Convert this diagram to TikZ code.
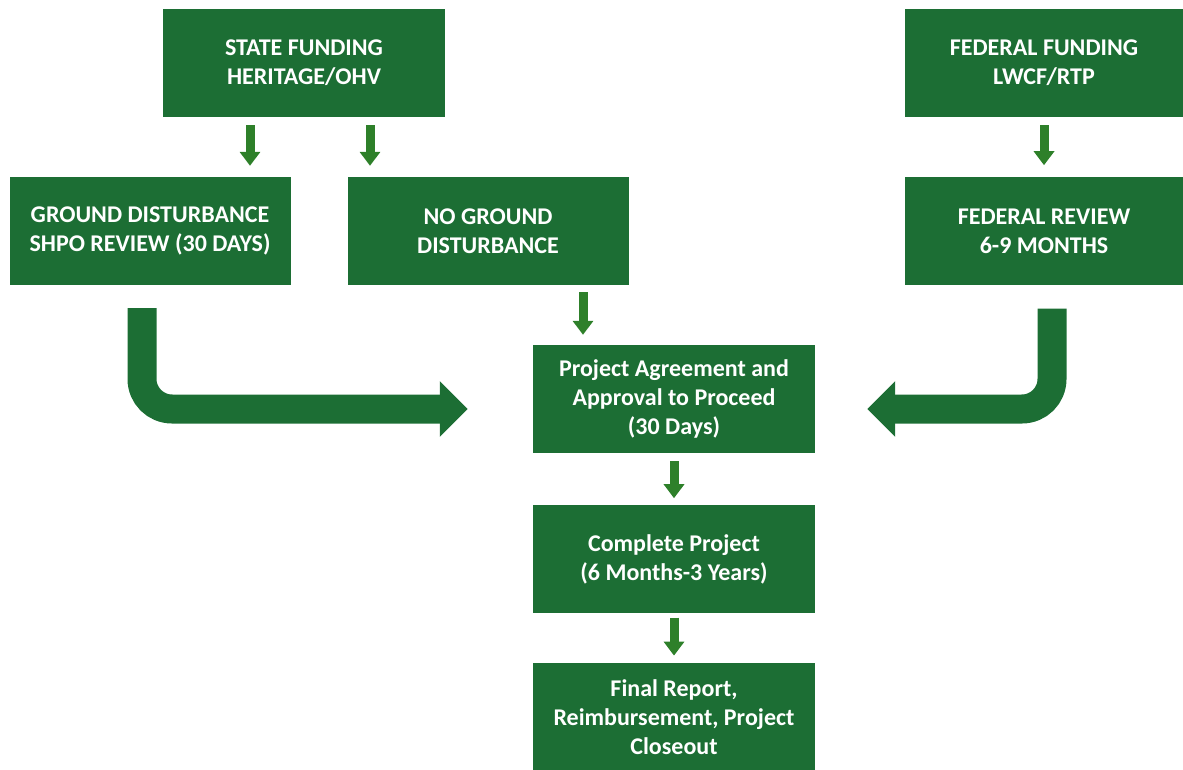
\documentclass[tikz,border=0pt]{standalone}
\usepackage{fontspec}
\setmainfont{Carlito}
\usetikzlibrary{arrows.meta, positioning, calc}
\definecolor{boxgreen}{RGB}{28,110,52}
\definecolor{arrowgreen}{RGB}{46,128,42}

\begin{document}
\begin{tikzpicture}[x=1pt, y=-1pt, node distance=60pt,
    box/.style={fill=boxgreen, text=white, minimum width=282pt, minimum height=108pt, align=center, inner sep=0pt, font=\fontsize{24}{29}\selectfont\bfseries},
    smallarrow/.style={draw=arrowgreen, line width=9pt, shorten <=7pt, shorten >=9pt, -{Triangle[width=20pt, length=14pt]}},
    bigarrow/.style={draw=boxgreen, line width=29pt, rounded corners=30pt, -{Triangle[width=54pt, length=28pt]}}]
    \useasboundingbox (0,0) rectangle (1183,770);
    \node[box] (state) at (304,63) {STATE FUNDING\\HERITAGE/OHV};
    \node[box, minimum width=278pt] (fedfund) at (1044,63) {FEDERAL FUNDING\\LWCF/RTP};
    \node[box, minimum width=281pt] (ground) at (150,231) {GROUND DISTURBANCE\\SHPO REVIEW (30 DAYS)};
    \node[box, minimum width=281pt] (noground) at (488,231) {NO GROUND\\DISTURBANCE};
    \node[box, minimum width=278pt, below=of fedfund] (fedreview) {FEDERAL REVIEW\\6-9 MONTHS};
    \node[box] (agree) at (674,399) {Project Agreement and\\Approval to Proceed\\(30 Days)};
    \node[box, below=52pt of agree] (complete) {Complete Project\\(6 Months-3 Years)};
    \node[box, below=49pt of complete] (final) {Final Report,\\Reimbursement, Project\\Closeout};

    \coordinate (sg) at (250,0);
    \coordinate (sn) at (370,0);
    \coordinate (na) at (583,0);
    \coordinate (bl) at (142,409);
    \coordinate (br) at (1052,409);

    \draw[smallarrow, shorten <=8pt, shorten >=11pt] (state.south -| sg) -- (ground.north -| sg);
    \draw[smallarrow, shorten <=8pt, shorten >=11pt] (state.south -| sn) -- (noground.north -| sn);
    \draw[smallarrow, shorten <=8pt, shorten >=12pt] (fedfund) -- (fedreview);
    \draw[smallarrow, shorten >=10pt] (noground.south -| na) -- (agree.north -| na);
    \draw[smallarrow, shorten <=8pt, shorten >=7pt] (agree) -- (complete);
    \draw[smallarrow, shorten <=4pt, shorten >=7pt] (complete) -- (final);

    \draw[bigarrow, shorten <=23pt, shorten >=65pt] (ground.south -| bl) |- (agree.west |- bl);
    \draw[bigarrow, shorten <=23pt, shorten >=52pt] (fedreview.south -| br) |- (agree.east |- br);
\end{tikzpicture}
\end{document}
